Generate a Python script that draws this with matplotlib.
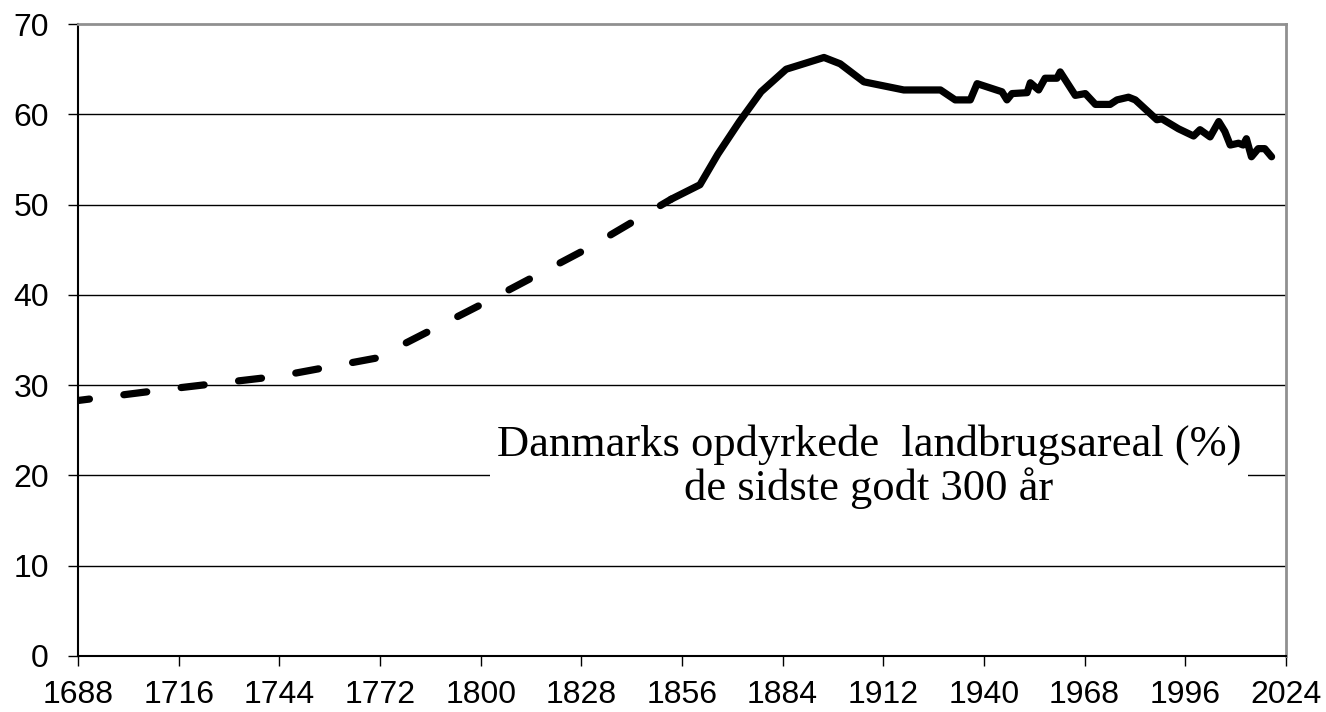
import matplotlib.pyplot as plt

plt.rcParams['font.family'] = ['Liberation Sans', 'DejaVu Sans']

# early estimates (dashed)
est_years = [1688, 1716, 1744, 1771, 1800, 1830, 1853]
est_share = [28.3, 29.7, 31.0, 33.0, 38.9, 45.2, 50.6]

# statistics (solid)
obs_years = [1853, 1861, 1866, 1872, 1878, 1885, 1895.5, 1900, 1906.6, 1917.7,
             1927.9, 1932, 1936.2, 1938.1, 1945, 1946.4, 1947.8, 1952, 1952.9,
             1955.2, 1957, 1960.3, 1961.2, 1965.4, 1968.2, 1971, 1975.1, 1977,
             1980.2, 1982.1, 1986.2, 1988.1, 1989.5, 1994.1, 1998.3, 2000.1,
             2002.9, 2005.3, 2007, 2008.5, 2010.8, 2012.1, 2013, 2014.4, 2016.3,
             2018.1, 2020]
obs_share = [50.6, 52.2, 55.6, 59.2, 62.5, 65.0, 66.3, 65.6, 63.6, 62.7,
             62.7, 61.6, 61.6, 63.4, 62.5, 61.6, 62.3, 62.4, 63.5,
             62.7, 64.0, 64.0, 64.7, 62.1, 62.3, 61.1, 61.1, 61.6,
             61.9, 61.6, 60.1, 59.4, 59.5, 58.4, 57.6, 58.3,
             57.5, 59.2, 58.1, 56.6, 56.8, 56.6, 57.3, 55.3, 56.2,
             56.2, 55.3]

xticks = list(range(1688, 2025, 28))
yticks = list(range(0, 71, 10))

fig = plt.figure(figsize=(13.26, 7.12), dpi=100)
ax = fig.add_axes([0.0588, 0.0787, 0.911, 0.8875])

for y in yticks[1:-1]:
    ax.axhline(y, color='black', lw=1.0, zorder=1)

ax.plot(est_years, est_share, color='black', lw=5.2, linestyle=(1.6, (3.2, 4.8)),
        dash_capstyle='round', solid_capstyle='round', zorder=3)
ax.plot(obs_years, obs_share, color='black', lw=5.2, solid_joinstyle='round',
        solid_capstyle='round', zorder=3)

ax.set_xlim(1688, 2024)
ax.set_ylim(0, 70)
ax.set_xticks(xticks)
ax.set_yticks(yticks)
ax.tick_params(labelsize=23, length=7, width=1, direction='out')
ax.tick_params(axis='x', pad=10)
ax.tick_params(axis='y', pad=14)

for s in ['left', 'bottom']:
    ax.spines[s].set_color('black')
    ax.spines[s].set_linewidth(1.5)
for s in ['top', 'right']:
    ax.spines[s].set_color('#909090')
    ax.spines[s].set_linewidth(2)

ax.text(1908, 21.0, 'Danmarks opdyrkede  landbrugsareal (%)\nde sidste godt 300 år',
        ha='center', va='center', fontsize=32, family='Liberation Serif',
        linespacing=1.05, zorder=4,
        bbox=dict(facecolor='white', edgecolor='none', pad=5))

fig.savefig('out.png', dpi=100)
